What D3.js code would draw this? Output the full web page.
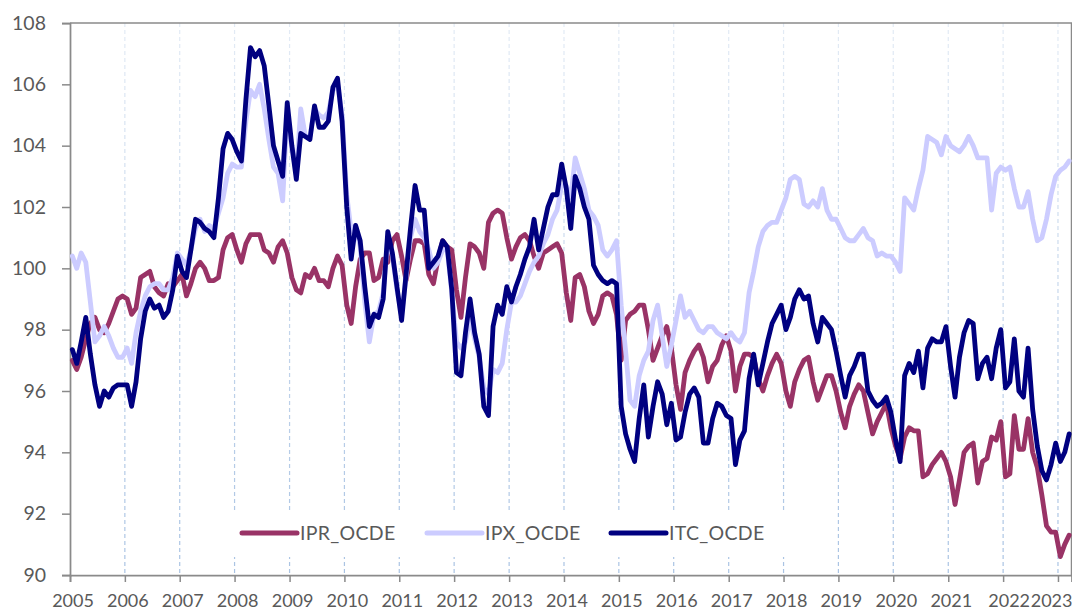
<!doctype html>
<html lang="fr">
<head>
<meta charset="utf-8">
<title>IPR / IPX / ITC OCDE</title>
<script src="https://d3js.org/d3.v7.min.js"></script>
<style>
  html, body { margin: 0; padding: 0; background: #fff; }
  svg text { font-family: Lato, "Open Sans", sans-serif; fill: #595959; }
</style>
</head>
<body>
<div id="chart"></div>
<script>
// monthly values, Jan 2005 -> Mar 2023, one row per year
const ipr = [
  97.0, 96.7, 97.1, 97.7, 98.2, 98.4, 98.0, 97.9, 98.2, 98.6, 99.0, 99.1,
  99.0, 98.5, 98.7, 99.7, 99.8, 99.9, 99.4, 99.2, 99.1, 99.5, 99.4, 99.6,
  99.8, 99.1, 99.5, 100.0, 100.2, 100.0, 99.6, 99.6, 99.7, 100.6, 101.0, 101.1,
  100.6, 100.2, 100.8, 101.1, 101.1, 101.1, 100.6, 100.5, 100.2, 100.7, 100.9, 100.5,
  99.7, 99.3, 99.2, 99.8, 99.7, 100.0, 99.6, 99.6, 99.4, 100.0, 100.4, 100.1,
  98.8, 98.2, 99.4, 100.3, 100.5, 100.5, 99.6, 99.7, 100.3, 100.2, 100.9, 101.1,
  100.4, 99.6, 100.3, 100.9, 100.9, 100.8, 99.8, 99.5, 100.3, 100.9, 100.7, 100.6,
  99.3, 98.4, 99.7, 100.8, 100.7, 100.5, 100.0, 101.5, 101.8, 101.9, 101.8, 101.0,
  100.3, 100.7, 101.0, 101.1, 100.9, 100.4, 100.0, 100.5, 100.6, 100.7, 100.8, 100.5,
  99.2, 98.3, 99.7, 99.8, 99.4, 98.6, 98.2, 98.5, 99.1, 99.2, 99.1, 98.5,
  97.0, 98.3, 98.5, 98.6, 98.8, 98.8, 98.0, 97.0, 97.4, 97.8, 98.1, 97.4,
  96.2, 95.4, 96.6, 97.0, 97.3, 97.5, 97.1, 96.3, 96.8, 97.0, 97.5, 97.8,
  97.3, 96.0, 96.8, 97.2, 97.2, 97.1, 96.4, 96.0, 96.5, 96.9, 97.2, 96.9,
  96.0, 95.5, 96.3, 96.7, 97.0, 97.1, 96.3, 95.7, 96.1, 96.5, 96.5, 96.0,
  95.3, 94.8, 95.5, 95.9, 96.2, 96.0, 95.3, 94.6, 95.0, 95.3, 95.6, 94.8,
  94.2, 93.8, 94.5, 94.8, 94.7, 94.7, 93.2, 93.3, 93.6, 93.8, 94.0, 93.7,
  93.2, 92.3, 93.1, 94.0, 94.2, 94.3, 93.0, 93.7, 93.8, 94.5, 94.4, 95.0,
  93.2, 93.3, 95.2, 94.1, 94.1, 95.1, 94.0, 93.5, 92.6, 91.6, 91.4, 91.4,
  90.6, 91.0, 91.3
]
const ipx = [
  100.4, 100.0, 100.5, 100.2, 98.9, 97.6, 97.8, 98.1, 97.8, 97.4, 97.1, 97.1,
  97.4, 96.9, 97.9, 98.6, 99.1, 99.4, 99.5, 99.5, 99.3, 99.3, 99.7, 100.5,
  100.3, 100.1, 100.6, 101.3, 101.6, 101.2, 101.4, 101.3, 101.8, 102.3, 103.1, 103.4,
  103.3, 103.3, 104.8, 105.8, 105.6, 106.0, 105.2, 104.2, 103.3, 103.1, 102.2, 105.1,
  103.9, 103.1, 105.2, 104.3, 104.3, 105.2, 105.0, 104.9, 105.1, 105.8, 106.0, 105.0,
  102.4, 101.2, 101.4, 100.7, 98.9, 97.6, 98.5, 98.6, 99.2, 101.0, 100.4, 99.3,
  98.5, 99.7, 101.0, 101.6, 101.2, 101.0, 100.6, 100.0, 100.2, 100.6, 100.6, 99.2,
  97.6, 97.4, 97.6, 98.4, 97.7, 97.1, 96.1, 95.9, 96.7, 96.6, 96.9, 98.0,
  98.9, 98.9, 99.1, 99.5, 99.9, 100.2, 100.4, 100.8, 101.1, 101.6, 101.9, 102.7,
  102.7, 102.3, 103.6, 103.1, 102.6, 101.9, 101.7, 101.4, 100.6, 100.4, 100.6, 100.9,
  98.8, 97.3, 95.7, 95.5, 96.5, 97.0, 97.3, 98.3, 98.8, 97.8, 96.8, 97.5,
  98.3, 99.1, 98.4, 98.6, 98.3, 98.0, 97.9, 98.1, 98.1, 97.9, 97.8, 97.7,
  97.9, 97.7, 97.6, 97.9, 99.2, 99.9, 100.7, 101.2, 101.4, 101.5, 101.5, 101.9,
  102.3, 102.9, 103.0, 102.9, 102.1, 102.0, 102.2, 102.0, 102.6, 101.9, 101.6, 101.6,
  101.3, 101.0, 100.9, 100.9, 101.1, 101.3, 101.0, 100.9, 100.4, 100.5, 100.4, 100.4,
  100.2, 99.9, 102.3, 102.1, 101.9, 102.6, 103.2, 104.3, 104.2, 104.1, 103.7, 104.3,
  104.0, 103.9, 103.8, 104.0, 104.3, 104.0, 103.6, 103.6, 103.6, 101.9, 103.1, 103.3,
  103.2, 103.3, 102.6, 102.0, 102.0, 102.5, 101.6, 100.9, 101.0, 101.6, 102.4, 103.0,
  103.2, 103.3, 103.5
]
const itc = [
  97.35, 96.9, 97.6, 98.4, 97.2, 96.2, 95.5, 96.0, 95.8, 96.1, 96.2, 96.2,
  96.2, 95.5, 96.3, 97.7, 98.6, 99.0, 98.7, 98.8, 98.4, 98.6, 99.3, 100.4,
  99.9, 99.7, 100.6, 101.6, 101.5, 101.3, 101.2, 101.0, 102.3, 103.9, 104.4, 104.2,
  103.8, 103.5, 105.5, 107.2, 106.9, 107.1, 106.6, 105.3, 104.0, 103.5, 103.0, 105.4,
  104.0, 102.9, 104.4, 104.3, 104.2, 105.3, 104.6, 104.6, 104.8, 105.9, 106.2, 104.8,
  102.0, 100.3, 101.4, 100.9, 99.4, 98.1, 98.5, 98.4, 99.0, 101.2, 100.5, 99.4,
  98.3, 99.8, 101.3, 102.7, 101.9, 101.9, 100.0, 100.2, 100.4, 100.9, 100.7, 99.3,
  96.6, 96.5, 97.9, 99.0, 97.9, 97.2, 95.5, 95.2, 98.1, 98.8, 98.5, 99.4,
  98.9, 99.4, 99.8, 100.3, 100.7, 101.6, 100.6, 101.3, 102.0, 102.4, 102.4, 103.4,
  102.6, 101.3, 103.0, 102.6, 102.0, 101.6, 100.1, 99.8, 99.6, 99.5, 99.6, 99.5,
  95.5, 94.6, 94.1, 93.7, 95.1, 96.2, 94.5, 95.5, 96.3, 95.9, 94.9, 95.6,
  94.4, 94.5, 95.3, 95.9, 96.1, 95.8, 94.3, 94.3, 95.1, 95.6, 95.5, 95.2,
  95.1, 93.6, 94.4, 94.7, 96.4, 97.2, 96.2, 96.9, 97.6, 98.2, 98.5, 98.8,
  98.0, 98.4, 99.0, 99.3, 99.0, 99.1, 98.2, 97.6, 98.4, 98.2, 98.0, 97.3,
  96.5, 95.8, 96.5, 96.8, 97.2, 97.2, 96.0, 95.7, 95.5, 95.6, 95.8, 95.3,
  94.4, 93.7, 96.5, 96.9, 96.6, 97.3, 96.1, 97.4, 97.7, 97.6, 97.6, 98.1,
  96.8, 95.8, 97.1, 97.9, 98.3, 98.2, 96.4, 96.9, 97.1, 96.4, 97.4, 98.0,
  96.1, 96.3, 97.7, 96.0, 95.8, 97.4, 95.4, 94.2, 93.4, 93.1, 93.6, 94.3,
  93.7, 94.0, 94.6
]

const seriesNames = ['IPR_OCDE', 'IPX_OCDE', 'ITC_OCDE']
const seriesColors = ['#993366', '#ccccff', '#000080']
const yTicks = [90, 92, 94, 96, 98, 100, 102, 104, 106, 108]
const yearTicks = d3.range(2005, 2024)

const W = 1072, H = 612
const plotL = 70, plotR = 1071.5, plotT = 23, plotB = 575

const svg = d3.select('#chart').append('svg')
    .attr('width', W).attr('height', H)

const start = new Date(2005, 0, 1)
const x = d3.scaleTime()
    .domain([start, new Date(2023, 3, 1)])
    .range([plotL, plotR])
const y = d3.scaleLinear().domain([90, 108]).range([plotB, plotT])

// each monthly point sits in the middle of its month
const monthMid = i => {
    const a = d3.timeMonth.offset(start, i), b = d3.timeMonth.offset(start, i + 1)
    return new Date((+a + +b) / 2)
}

// faded dashed year gridlines
const grad = svg.append('defs').append('linearGradient')
    .attr('id', 'gridfade').attr('gradientUnits', 'userSpaceOnUse')
    .attr('x1', 0).attr('y1', plotT).attr('x2', 0).attr('y2', plotB)
grad.append('stop').attr('offset', 0).attr('stop-color', '#e3ebf5')
grad.append('stop').attr('offset', 1).attr('stop-color', '#a9c3e3')

svg.append('g').selectAll('line')
    .data(yearTicks.slice(1))
    .join('line')
    .attr('x1', d => x(new Date(d, 0, 1))).attr('x2', d => x(new Date(d, 0, 1)))
    .attr('y1', plotT).attr('y2', plotB)
    .attr('stroke', 'url(#gridfade)')
    .attr('stroke-width', 1.2)
    .attr('stroke-dasharray', '4,3')

// frame: top + right border
svg.append('path')
    .attr('d', `M${plotL},${plotT}H${plotR}V${plotB}`)
    .attr('fill', 'none').attr('stroke', '#8a8a8a').attr('stroke-width', 1.5)

const yAxis = svg.append('g')
    .attr('transform', `translate(${plotL},0)`)
    .call(d3.axisLeft(y).tickValues(yTicks).tickSize(8).tickPadding(16).tickFormat(d3.format('d')))
const xAxis = svg.append('g')
    .attr('transform', `translate(0,${plotB})`)
    .call(d3.axisBottom(x).tickValues(yearTicks.map(d => new Date(d, 0, 1)))
        .tickSize(7).tickPadding(12).tickFormat(d3.timeFormat('%Y')))

for (const ax of [yAxis, xAxis]) {
    ax.select('.domain').attr('stroke', '#8a8a8a').attr('stroke-width', 1.75)
    ax.selectAll('.tick line').attr('stroke', '#8a8a8a').attr('stroke-width', 1.5)
    ax.selectAll('.tick text').attr('fill', '#595959')
        .style('font-family', 'Lato, "Open Sans", sans-serif')
}
yAxis.selectAll('.tick text').attr('font-size', 19.5)
xAxis.selectAll('.tick text').attr('font-size', 18).attr('dx', 2.5)
// the last two year labels crowd together at the right edge
xAxis.selectAll('.tick text').filter(d => d.getFullYear() === 2022)
    .attr('dx', 5.5)
xAxis.selectAll('.tick text').filter(d => d.getFullYear() === 2023)
    .attr('text-anchor', 'end')
    .attr('dx', plotR - x(new Date(2023, 0, 1)) + 0.5)

// series
const line = d3.line()
    .x((d, i) => x(monthMid(i)))
    .y(d => y(d))

const allSeries = [ipr, ipx, itc]
svg.append('g').selectAll('path')
    .data(allSeries)
    .join('path')
    .attr('d', d => line(d))
    .attr('fill', 'none')
    .attr('stroke', (d, i) => seriesColors[i])
    .attr('stroke-width', 4.8)
    .attr('stroke-linejoin', 'round')
    .attr('stroke-linecap', 'round')

// legend
const legend = svg.append('g')
legend.append('rect')
    .attr('x', 205).attr('y', 510).attr('width', 595).attr('height', 47)
    .attr('fill', '#fff')
const legendX = [242, 427, 611]
const items = legend.selectAll('g.item')
    .data(seriesNames)
    .join('g').attr('class', 'item')
    .attr('transform', (d, i) => `translate(${legendX[i]},533)`)
items.append('line')
    .attr('x1', 0).attr('x2', 55).attr('y1', 0).attr('y2', 0)
    .attr('stroke', (d, i) => seriesColors[i])
    .attr('stroke-width', 5)
    .attr('stroke-linecap', 'round')
items.append('text')
    .attr('x', 58).attr('y', 6.5)
    .attr('font-size', 19.5)
    .attr('letter-spacing', 0.3)
    .text(d => d)
</script>
</body>
</html>
